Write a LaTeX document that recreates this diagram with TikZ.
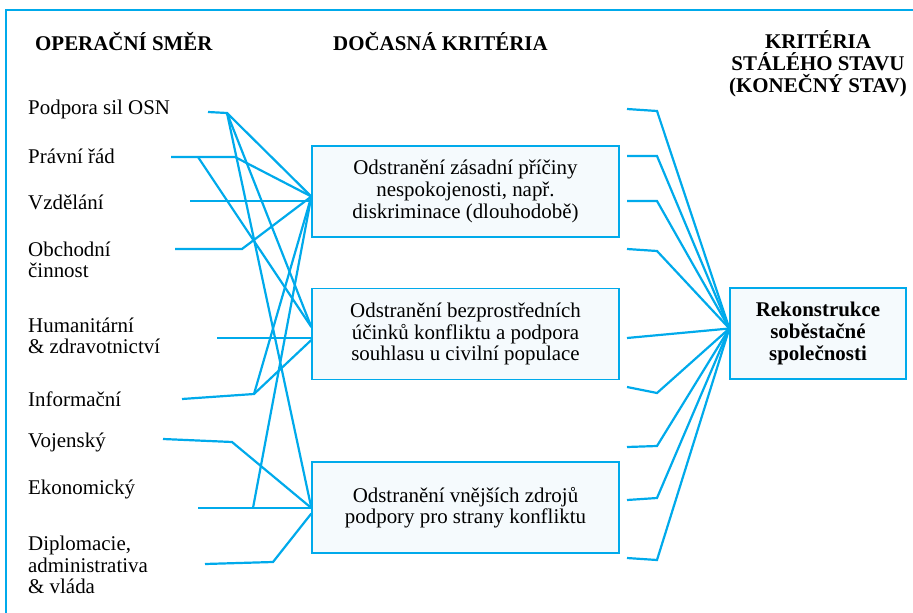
\documentclass[tikz,border=0pt]{standalone}
\usepackage{fontspec}
\setmainfont{LiberationSerif}[Extension=.ttf, UprightFont=*-Regular, BoldFont=*-Bold,
  ItalicFont=*-Italic, BoldItalicFont=*-BoldItalic]
\usepackage{xcolor}
\usepackage{tikz}
\usetikzlibrary{positioning,calc}
\definecolor{lineblue}{RGB}{0,170,235}
\definecolor{boxfill}{RGB}{245,250,253}
\newcommand{\figsize}{\fontsize{21}{21.7}\selectfont}

\begin{document}
\begin{tikzpicture}[
  x=1bp, y=-1bp,
  font=\figsize,
  crit/.style={draw=lineblue, fill=boxfill, line width=1.3bp, align=center,
               inner sep=0pt, minimum width=307bp, minimum height=91bp},
  lbl/.style={anchor=west, align=left, inner sep=0pt},
  head/.style={font=\fontsize{21}{22}\selectfont\bfseries, align=center, inner sep=0pt},
  link/.style={draw=lineblue, line width=2.2bp}
]
  \useasboundingbox (0,0) rectangle (913,613);
  \draw[lineblue, line width=1.6bp] (6,613) -- (6,10) -- (913,10);

  % column heads
  \node[head, anchor=west] (hdir) at (35,42) {OPERAČNÍ SMĚR};
  \node[head, anchor=west] (htmp) at (333,42) {DOČASNÁ KRITÉRIA};
  \node[head] (hend) at (818,64) {KRITÉRIA\\STÁLÉHO STAVU\\(KONEČNÝ STAV)};

  % criteria boxes
  \node[crit] (c1) at (465.5,191.5) {Odstranění zásadní příčiny\\nespokojenosti, např.\\diskriminace (dlouhodobě)};
  \node[crit] (c2) at (465.5,334) {Odstranění bezprostředních\\účinků konfliktu a podpora\\souhlasu u civilní populace};
  \node[crit] (c3) at (465.5,507.5) {Odstranění vnějších zdrojů\\podpory pro strany konfliktu};
  \node[crit, minimum width=176bp, font=\figsize\bfseries] (goal) at (818,333.5) {Rekonstrukce\\soběstačné\\společnosti};

  % lines of operation
  \node[lbl] (osn) at (28,109) {Podpora sil OSN};
  \node[lbl] (prav) at (28,156) {Právní řád};
  \node[lbl] (vzd) at (28,202) {Vzdělání};
  \node[lbl] (obch) at (28,260) {Obchodní\\činnost};
  \node[lbl] (hum) at (28,336) {Humanitární\\\& zdravotnictví};
  \node[lbl] (inf) at (28,399) {Informační};
  \node[lbl] (voj) at (28,442) {Vojenský};
  \node[lbl] (eko) at (28,489) {Ekonomický};
  \node[lbl] (dipl) at (28,565) {Diplomacie,\\administrativa\\\& vláda};

  % entry points
  \coordinate (c1in) at ($(c1.west)+(0,5)$);
  \coordinate (c2a) at ($(c2.west)+(0,-7)$);
  \coordinate (c2b) at ($(c2.west)+(0,6)$);
  \coordinate (c3in) at ($(c3.west)+(0,0.5)$);
  \coordinate (c3b) at ($(c3.west)+(0,6)$);
  \coordinate (gin) at ($(goal.west)+(0,-5)$);

  % left wiring
  \coordinate (osn-s) at (208,112);  \coordinate (osn-j) at (227,113);
  \draw[link] (osn-s) -- (osn-j) -- (c1in);
  \draw[link] (osn-j) -- (c2a);
  \draw[link] (osn-j) -- (c3in);
  \coordinate (prav-s) at (171,157); \coordinate (prav-j) at (235,157); \coordinate (prav-k) at (198,157);
  \draw[link] (prav-s) -- (prav-j) -- (c1in);
  \draw[link] (prav-k) -- (c2a);
  \coordinate (vzd-s) at (190,201);
  \draw[link] (vzd-s) -- (vzd-s -| c1.west);
  \coordinate (obch-s) at (175,249); \coordinate (obch-j) at (242,249);
  \draw[link] (obch-s) -- (obch-j) -- (c1in);
  \coordinate (hum-s) at (217,338);
  \draw[link] (hum-s) -- (hum-s -| c2.west);
  \coordinate (inf-s) at (182,399); \coordinate (inf-j) at (254,394);
  \draw[link] (inf-s) -- (inf-j) -- (c2b);
  \draw[link] (inf-j) -- (c1in);
  \coordinate (voj-s) at (163,439); \coordinate (voj-j) at (232,442);
  \draw[link] (voj-s) -- (voj-j) -- (c3in);
  \coordinate (eko-s) at (198,508); \coordinate (eko-k) at (253,508);
  \draw[link] (eko-s) -- (eko-s -| c3.west);
  \draw[link] (eko-k) -- (c1in);
  \coordinate (dipl-s) at (205,564); \coordinate (dipl-j) at (273,562);
  \draw[link] (dipl-s) -- (dipl-j) -- (c3b);

  % right wiring
  \coordinate (r1) at (627,109); \coordinate (r1b) at (657,111);
  \coordinate (r2) at (627,156); \coordinate (r2b) at (657,156);
  \coordinate (r3) at (627,201); \coordinate (r3b) at (657,201);
  \coordinate (r4) at (627,249); \coordinate (r4b) at (657,251);
  \coordinate (r5) at (627,338);
  \coordinate (r6) at (627,387); \coordinate (r6b) at (657,393);
  \coordinate (r7) at (627,447); \coordinate (r7b) at (657,446);
  \coordinate (r8) at (627,500); \coordinate (r8b) at (657,498);
  \coordinate (r9) at (627,558); \coordinate (r9b) at (657,560);
  \draw[link] (r1) -- (r1b) -- (gin);
  \draw[link] (r2) -- (r2b) -- (gin);
  \draw[link] (r3) -- (r3b) -- (gin);
  \draw[link] (r4) -- (r4b) -- (gin);
  \draw[link] (r5) -- (gin);
  \draw[link] (r6) -- (r6b) -- (gin);
  \draw[link] (r7) -- (r7b) -- (gin);
  \draw[link] (r8) -- (r8b) -- (gin);
  \draw[link] (r9) -- (r9b) -- (gin);
\end{tikzpicture}
\end{document}
